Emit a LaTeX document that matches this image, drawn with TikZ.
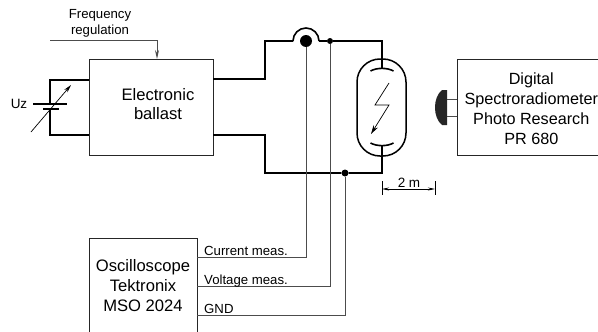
\documentclass[tikz,border=0pt]{standalone}
\usepackage{fontspec}
\setmainfont{Liberation Sans}
\usetikzlibrary{arrows.meta}
\tikzset{
  box/.style={draw=black!85, line width=0.8pt, align=center, font=\fontsize{16.6}{20}\selectfont, inner sep=0pt},
  boxlbl/.style={inner sep=0pt, align=center, font=\fontsize{16.6}{#1}\selectfont},
  wire/.style={draw=black, line width=1.6pt},
  signal/.style={draw=black!70, line width=1pt},
  thin wire/.style={draw=black, line width=0.7pt},
  dot/.style={circle, fill=black, inner sep=0pt, minimum size=#1},
  lbl/.style={inner sep=0pt, font=\fontsize{13.2}{15.5}\selectfont, align=center},
}
\begin{document}
\begin{tikzpicture}[x=1pt, y=-1pt]
            \useasboundingbox (0,0) rectangle (598,332);
            \node[box, minimum width=124pt, minimum height=96pt] (ballast) at (151,107) {};
            \node[boxlbl=19pt] (ballastlbl) at (158,104.5) {Electronic\\ballast};
            \node[box, minimum width=150pt, minimum height=96pt] (spectro) at (532,107) {};
            \node[boxlbl=20pt, font=\fontsize{16.2}{20}\selectfont] (spectrolbl) at (531.3,109) {Digital\\Spectroradiometer\\Photo Research\\PR 680};
            \node[box, minimum width=108pt, minimum height=95pt] (osc) at (143,285.5) {Oscilloscope\\Tektronix\\MSO 2024};
            \node[draw=black, line width=1.5pt, minimum width=49pt, minimum height=97pt, rounded corners=23pt, inner sep=0pt] (lamp) at (381.5,107.5) {};
            \node[dot=12pt] (probe) at (306,41) {};
            \node[dot=6pt] (vtop) at (330,41) {};
            \node[dot=7pt] (gnd) at (345,173) {};
            % lamp supply
            \coordinate (ballastup) at (213,79);
            \coordinate (ballastdown) at (213,135);
            \coordinate (probeleft) at (293,41);
            \coordinate (proberight) at (319,41);
            \path[wire]
            (ballastup) -- (265,79) -- (265,41) -- (probeleft)
            (probeleft) arc[start angle=180, end angle=0, radius=13pt]
            (proberight) -- (vtop) -- (382,41) -- (382,68.5)
            (382,145.5) -- (382,173) -- (gnd) -- (265,173) -- (265,135) -- (ballastdown);
            % electrodes
            \path[wire] (370.5,71) .. controls (377,67.5) and (387,67.5) .. (393.5,71);
            \path[wire] (370.5,143) .. controls (377,146.5) and (387,146.5) .. (393.5,143);
            % discharge
            \draw[thin wire, -{Stealth[length=9pt, width=5pt]}] (389,83) -- (375,105) -- (389,105) -- (371,134);
            % source
            \coordinate (plusin) at (89,80);
            \coordinate (minusin) at (89,135);
            \path[wire] (plusin) -- (50,80) -- (50,104) (50,109) -- (50,135) -- (minusin);
            \path[wire] (33,104) -- (67,104) (43,109) -- (59,109);
            \draw[thin wire, -{Stealth[length=8pt, width=4pt]}] (31,132) -- (71,85);
            \node[lbl, font=\fontsize{13.5}{15}\selectfont] (uz) at (19,104) {Uz};
            % regulation input
            \node[lbl] (freq) at (100,23.5) {Frequency\\regulation};
            \draw[signal, -{Stealth[length=9pt, width=4pt]}] (50,40) -- (157,40) -- (157,59);
            % measurement lines
            \coordinate (curout) at (197,257);
            \coordinate (voltout) at (197,286);
            \coordinate (gndout) at (197,315);
            \path[signal]
            (probe) -- (306,257) -- (curout)
            (vtop) -- (330,286) -- (voltout)
            (gnd) -- (345,315) -- (gndout);
            \node[lbl, anchor=base west] (curlbl) at (204,255) {Current meas.};
            \node[lbl, anchor=base west] (voltlbl) at (204,284) {Voltage meas.};
            \node[lbl, anchor=base west] (gndlbl) at (204,313) {GND};
            % distance
            \coordinate (dleft) at (382,189);
            \coordinate (dright) at (435,189);
            \draw[thin wire, {Stealth[length=7pt, width=3pt]}-{Stealth[length=7pt, width=3pt]}] (dleft) -- (dright);
            \draw[thin wire] (382,181) -- (382,195) (435,181) -- (435,195);
            \node[lbl, font=\fontsize{13.5}{15}\selectfont] (dist) at (409,183) {2 m};
            % lens
            \node[inner sep=0pt, minimum size=0pt] (lens) at (447,107.5) {};
            \fill[black!85] (lens.center) ++(0,-17.5) -- ++(-5,0) .. controls (437,94) and (435,101) .. (435,107.5) .. controls (435,114) and (437,121) .. (442,125) -- (447,125) -- cycle;
            \path[signal] (447,99) -- (spectro.west |- 447,99) (447,116) -- (spectro.west |- 447,116);
        \end{tikzpicture}
\end{document}
